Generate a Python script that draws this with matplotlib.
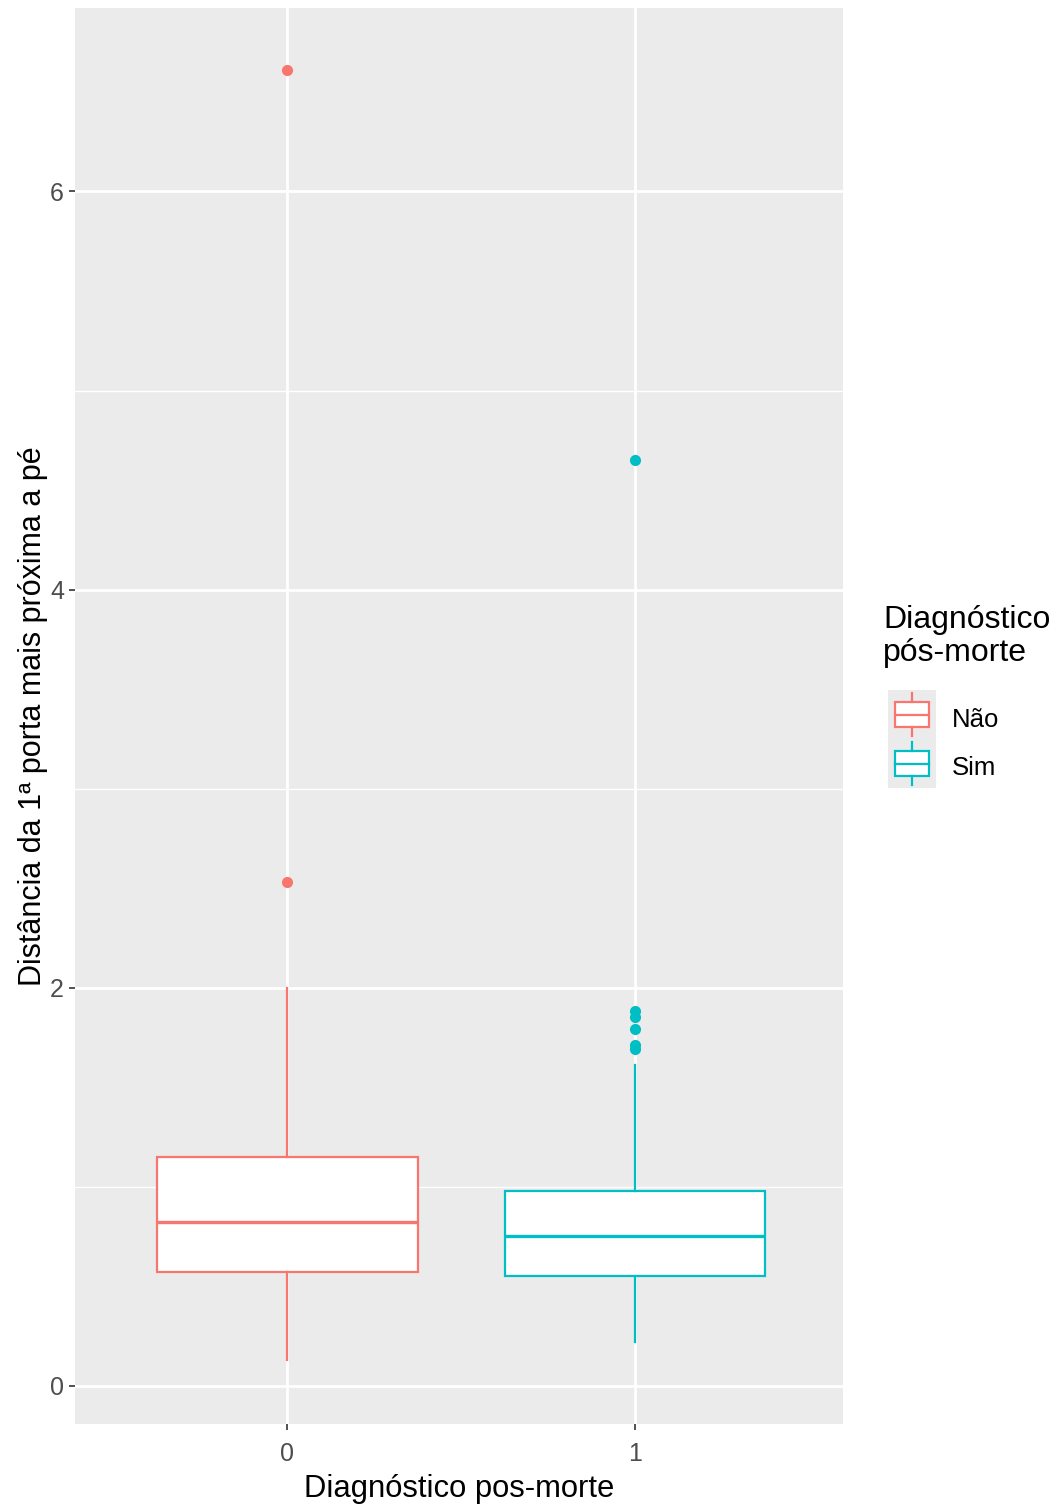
import matplotlib.pyplot as plt
from matplotlib.patches import Rectangle

plt.rcParams['font.family'] = ['Liberation Sans', 'DejaVu Sans']

groups = ["0", "1"]
legend_labels = ["Não", "Sim"]
colors = ["#F8766D", "#00BFC4"]

# box statistics
whislo = [0.13, 0.22]
q1 = [0.57, 0.55]
med = [0.82, 0.75]
q3 = [1.15, 0.98]
whishi = [2.00, 1.61]
fliers = [[2.53, 6.61], [1.69, 1.71, 1.79, 1.85, 1.88, 4.65]]

fig = plt.figure(figsize=(10.56, 15.09), dpi=100)
ax = fig.add_axes([75/1056, 1 - 1424/1509, 768/1056, 1416/1509])
ax.set_facecolor("#EBEBEB")

for i in range(len(groups)):
    stats = [{"whislo": whislo[i], "q1": q1[i], "med": med[i], "q3": q3[i],
              "whishi": whishi[i], "fliers": fliers[i]}]
    ax.bxp(stats, positions=[i], widths=0.75, patch_artist=True, showcaps=False,
           boxprops=dict(facecolor="white", edgecolor=colors[i], linewidth=1.6),
           medianprops=dict(color=colors[i], linewidth=2.4),
           whiskerprops=dict(color=colors[i], linewidth=1.6),
           flierprops=dict(marker="o", markerfacecolor=colors[i], markeredgecolor=colors[i],
                           markersize=7, linestyle="none"),
           zorder=3)

ax.set_xlim(-0.61, 1.598)
ax.set_ylim(-0.193, 6.922)
ax.set_xticks([0, 1])
ax.set_xticklabels(groups)
ax.set_yticks([0, 2, 4, 6])
ax.set_yticks([1, 3, 5], minor=True)
ax.grid(which="major", color="white", linewidth=2.0, zorder=0)
ax.grid(which="minor", axis="y", color="white", linewidth=1.0, zorder=0)
ax.set_axisbelow(True)
for s in ax.spines.values():
    s.set_visible(False)
ax.tick_params(axis="both", which="major", length=4, width=1.2, color="#333333",
               labelsize=18, labelcolor="#4D4D4D", pad=4)
ax.tick_params(axis="x", which="major", pad=9)
ax.tick_params(axis="y", which="minor", length=0)
ax.set_xlabel("Diagnóstico pos-morte", fontsize=22.3, labelpad=6)
ax.set_ylabel("Distância da 1ª porta mais próxima a pé", fontsize=22, labelpad=1)

# legend drawn by hand
fig.text(883/1056, 1 - 605/1509, "Diagnóstico\npós-morte", fontsize=23,
         va="top", ha="left", linespacing=1.15)
lax = fig.add_axes([888/1056, 1 - 788/1509, 48/1056, 98/1509])
lax.set_facecolor("#EBEBEB")
lax.set_xlim(0, 1)
lax.set_ylim(0, 2)
lax.set_xticks([])
lax.set_yticks([])
for s in lax.spines.values():
    s.set_visible(False)
for i in range(len(legend_labels)):
    yc = 1.5 - i
    lax.add_patch(Rectangle((0.15, yc - 0.26), 0.7, 0.52, facecolor="white",
                            edgecolor=colors[i], linewidth=1.6))
    lax.plot([0.15, 0.85], [yc, yc], color=colors[i], linewidth=1.6)
    lax.plot([0.5, 0.5], [yc + 0.26, yc + 0.43], color=colors[i], linewidth=1.6)
    lax.plot([0.5, 0.5], [yc - 0.26, yc - 0.43], color=colors[i], linewidth=1.6)
    fig.text(952/1056, 1 - (720 + 48 * i)/1509, legend_labels[i], fontsize=18.5,
             va="center", ha="left")

fig.savefig("out.png", dpi=100)
